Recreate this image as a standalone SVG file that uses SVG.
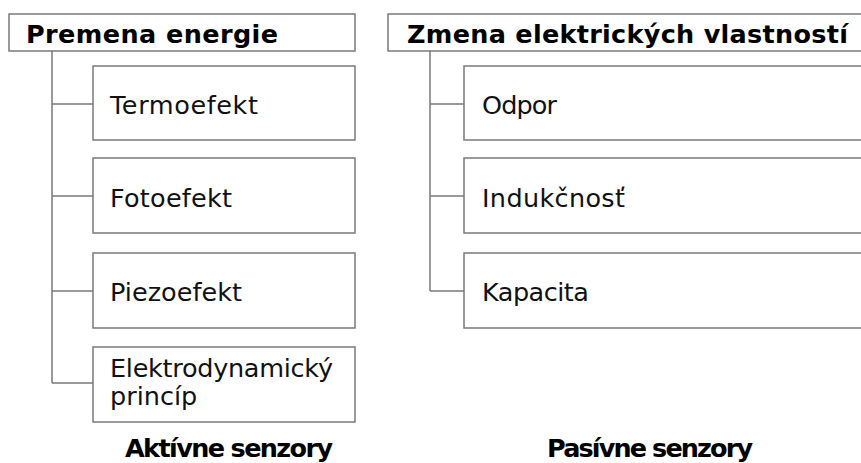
<svg xmlns="http://www.w3.org/2000/svg" width="861" height="463" viewBox="0 0 861 463">
<style>
.box{fill:#fff;stroke:#7a7a7a;stroke-width:1.5}
.ln{fill:none;stroke:#7a7a7a;stroke-width:1.5}
.h{font-family:"DejaVu Sans",Verdana,sans-serif;font-weight:bold;font-size:25.5px;fill:#000}
.t{font-family:"DejaVu Sans",Verdana,sans-serif;font-size:25.5px;fill:#111}
</style>
<rect width="861" height="463" fill="#fff"/>
<g id="connectors">
<path class="ln" d="M52,51 V383 M52,104 H93 M52,196 H93 M52,291 H93 M52,383 H93"/>
<path class="ln" d="M430,51 V291 M430,104 H464 M430,196 H464 M430,291 H464"/>
</g>
<g id="premena"><rect class="box" x="9" y="14" width="346" height="37"/><text class="h" x="26" y="43" textLength="252">Premena energie</text></g>
<g id="termo"><rect class="box" x="93" y="66" width="262" height="74"/><text class="t" x="110" y="114" textLength="148">Termoefekt</text></g>
<g id="foto"><rect class="box" x="93" y="158" width="262" height="75"/><text class="t" x="110" y="207" textLength="122">Fotoefekt</text></g>
<g id="piezo"><rect class="box" x="93" y="253" width="262" height="75"/><text class="t" x="110" y="301" textLength="132">Piezoefekt</text></g>
<g id="elektro"><rect class="box" x="93" y="347" width="262" height="75"/><text class="t" x="110" y="377" textLength="223">Elektrodynamický</text><text class="t" x="110" y="405">princíp</text></g>
<g id="aktivne"><text class="h" x="125" y="457" textLength="208">Aktívne senzory</text></g>
<g id="zmena"><rect class="box" x="388" y="14" width="480" height="37"/><text class="h" x="407" y="43" textLength="441">Zmena elektrických vlastností</text></g>
<g id="odpor"><rect class="box" x="464" y="66" width="404" height="74"/><text class="t" x="482" y="114" textLength="75">Odpor</text></g>
<g id="indukcnost"><rect class="box" x="464" y="158" width="404" height="75"/><text class="t" x="482" y="207" textLength="143">Indukčnosť</text></g>
<g id="kapacita"><rect class="box" x="464" y="253" width="404" height="75"/><text class="t" x="482" y="301" textLength="107">Kapacita</text></g>
<g id="pasivne"><text class="h" x="547" y="457" textLength="206">Pasívne senzory</text></g>
</svg>
